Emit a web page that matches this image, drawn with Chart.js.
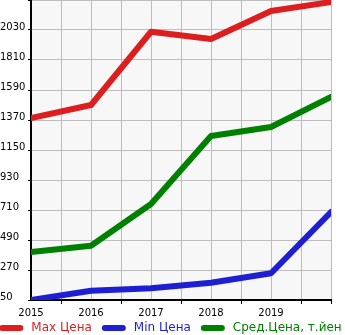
<!DOCTYPE html>
<html>
<head>
<meta charset="utf-8">
<script src="https://cdn.jsdelivr.net/npm/chart.js@4.4.0/dist/chart.umd.min.js"></script>
<style>
  html, body { margin: 0; padding: 0; background: #fff; }
  #caixa { width: 345px; height: 335px; }
</style>
</head>
<body>
<div id="caixa"><canvas id="grafico"></canvas></div>
<script>
// dados
const anos = [2015, 2016, 2017, 2018, 2019, 2020];
const precoMax = [1385, 1480, 2017, 1964, 2169, 2235];
const precoMin = [50, 118, 136, 177, 246, 695];
const precoMedio = [402, 448, 754, 1253, 1319, 1539];
const nomesSeries = ['Max Цена', 'Min Цена', 'Сред.Цена, т.йен'];
const coresSeries = ['#dc1e1e', '#1e1ed2', '#008000'];
const valoresY = [50, 270, 490, 710, 930, 1150, 1370, 1590, 1810, 2030, 2250];
const rotulosX = ['2015', '2016', '2017', '2018', '2019'];

const FONTE = '"DejaVu Sans", sans-serif';

function pontos(valores) {
    return anos.map((a, i) => ({ x: a, y: valores[i] }));
}

// fundo cinza claro só na área do gráfico
const fundoArea = {
    id: 'fundoArea',
    beforeDraw(chart) {
        const { ctx, chartArea: a } = chart;
        ctx.save();
        ctx.fillStyle = '#f7f7f7';
        ctx.fillRect(a.left, a.top, a.right - a.left, a.bottom - a.top);
        ctx.restore();
    }
};

// legenda desenhada à mão (não quebra linha)
const legendaLinha = {
    id: 'legendaLinha',
    afterDraw(chart) {
        const ctx = chart.ctx;
        const ds = chart.data.datasets;
        ctx.save();
        ctx.font = '12px ' + FONTE;
        const larguras = ds.map(d => ctx.measureText(d.label).width);
        const total = larguras.reduce((s, w) => s + 24 + 8 + w, 0) + 10 * (ds.length - 1);
        let x = (chart.width - total) / 2 - 2;
        const y = 328;
        ds.forEach((d, i) => {
            ctx.strokeStyle = d.borderColor;
            ctx.lineWidth = 6;
            ctx.lineCap = 'round';
            ctx.beginPath();
            ctx.moveTo(x + 3, y);
            ctx.lineTo(x + 21, y);
            ctx.stroke();
            ctx.fillStyle = d.borderColor;
            ctx.textBaseline = 'middle';
            ctx.textAlign = 'left';
            ctx.fillText(d.label, x + 32, y);
            x += 32 + larguras[i] + 10;
        });
        ctx.restore();
    }
};

const series = [precoMax, precoMin, precoMedio];

new Chart(document.getElementById('grafico'), {
    type: 'line',
    data: {
        datasets: series.map((v, i) => ({
            label: nomesSeries[i],
            data: pontos(v),
            borderColor: coresSeries[i],
            backgroundColor: coresSeries[i],
            borderWidth: 6,
            borderCapStyle: 'round',
            borderJoinStyle: 'round',
            pointRadius: 0,
            tension: 0,
            fill: false
        }))
    },
    options: {
        responsive: true,
        maintainAspectRatio: false,
        animation: false,
        events: [],
        layout: { padding: { top: 0, right: 14, bottom: 17, left: 0 } },
        plugins: {
            legend: { display: false },
            tooltip: { enabled: false }
        },
        scales: {
            x: {
                type: 'linear',
                min: 2015,
                max: 2020,
                ticks: {
                    stepSize: 0.5,
                    autoSkip: false,
                    maxRotation: 0,
                    padding: 3,
                    color: '#000',
                    font: { family: FONTE, size: 10 },
                    callback: v => rotulosX.includes(String(v)) ? String(v) : ''
                },
                grid: {
                    color: '#bdbdbd',
                    lineWidth: 1,
                    tickLength: 4,
                    tickColor: c => (c.tick && rotulosX.includes(String(c.tick.value))) ? 'rgba(0,0,0,0)' : '#000'
                },
                border: { color: '#000', width: 2 },
                afterFit(scale) {
                    scale.height = 18;
                    scale.paddingLeft = 0;
                    scale.paddingRight = 0;
                }
            },
            y: {
                type: 'linear',
                min: 50,
                max: 2250,
                afterBuildTicks(scale) {
                    scale.ticks = valoresY.map(v => ({ value: v }));
                },
                ticks: {
                    crossAlign: 'far',
                    labelOffset: -3,
                    color: '#000',
                    font: { family: FONTE, size: 10 },
                    callback: v => v === 2250 ? '' : String(v)
                },
                grid: {
                    color: '#bdbdbd',
                    lineWidth: 1,
                    tickLength: 3,
                    tickColor: '#000'
                },
                border: { color: '#000', width: 2 },
                afterFit(scale) {
                    scale.width = 31;
                    scale.paddingTop = 0;
                    scale.paddingBottom = 0;
                }
            }
        }
    },
    plugins: [fundoArea, legendaLinha]
});
</script>
</body>
</html>
